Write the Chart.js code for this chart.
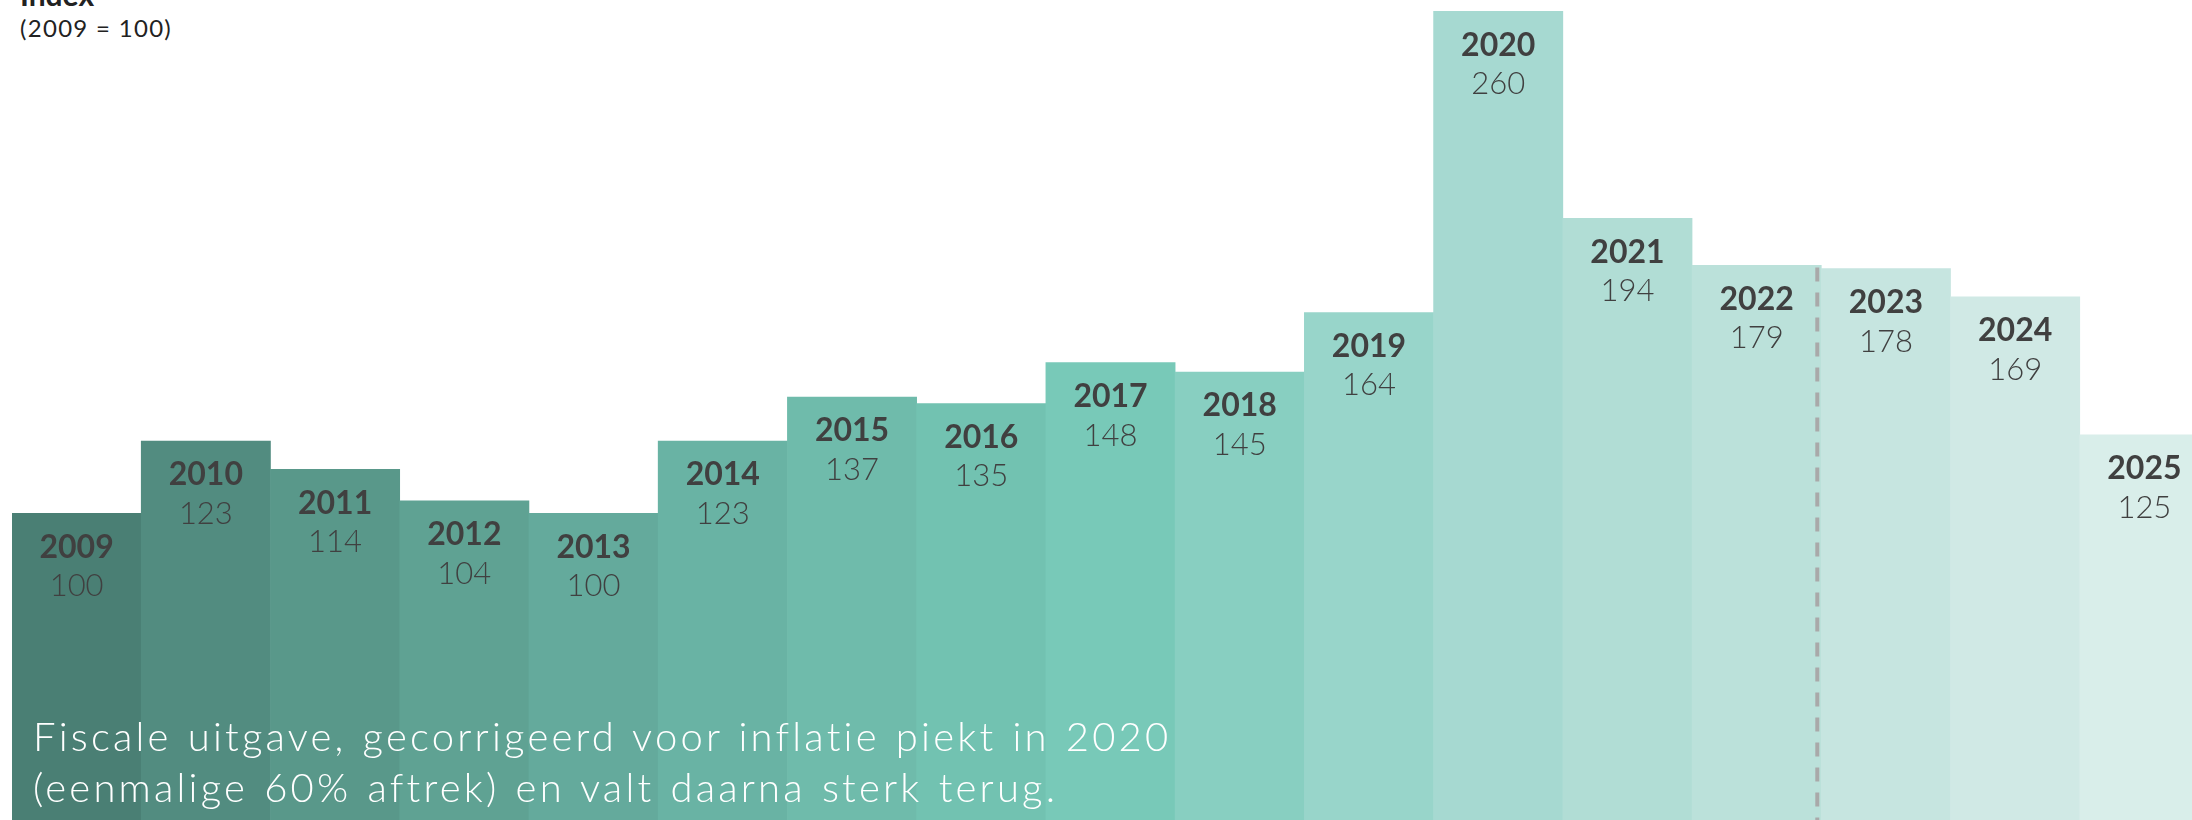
<!DOCTYPE html>
<html>
<head>
<meta charset="utf-8">
<script src="https://cdn.jsdelivr.net/npm/chart.js@4.4.1/dist/chart.umd.min.js"></script>
<style>
  html, body { margin: 0; padding: 0; background: #fff; }
  body { width: 2192px; height: 820px; overflow: hidden; position: relative; font-family: Lato, "Open Sans", sans-serif; }
  #chart { position: absolute; left: 12px; top: 0; }
  .head { position: absolute; left: 20px; color: #222; white-space: nowrap; }
  #idx { top: -21px; font-size: 30px; font-weight: 700; line-height: 30px; }
  #base { top: 13px; left: 20px; font-size: 24px; line-height: 30px; font-weight: 400; letter-spacing: 1.3px; }
  #note { position: absolute; left: 33px; top: 711px; color: #fff; font-size: 40px; font-weight: 300; line-height: 51px; letter-spacing: 3.2px; word-spacing: 2px; white-space: nowrap; }
</style>
</head>
<body>
<div class="head" id="idx">Index</div>
<div class="head" id="base">(2009 = 100)</div>
<canvas id="chart" width="2197" height="827"></canvas>
<div id="note">Fiscale uitgave, gecorrigeerd voor inflatie piekt in 2020<br>(eenmalige 60% aftrek) en valt daarna sterk terug.</div>
<script>
  "use strict";

  var years = ['2009', '2010', '2011', '2012', '2013', '2014', '2015', '2016', '2017',
               '2018', '2019', '2020', '2021', '2022', '2023', '2024', '2025'];
  var indexValues = [100, 123, 114, 104, 100, 123, 137, 135, 148, 145, 164, 260, 194, 179, 178, 169, 125];
  var barColors = ['#4a7f74', '#528c80', '#59988a', '#5fa293', '#64aa9c', '#69b3a4', '#6fbbab',
                   '#72c2b1', '#78c9b8', '#88cfc1', '#98d5ca', '#a6d9d1', '#b1ddd5', '#bbe1da',
                   '#c6e5e0', '#d0e9e5', '#d9eeea'];
  // last realised year before the dashed split
  var splitAfter = '2022';

  // Year (bold) and index value (light) inside the top of each bar.
  var barLabels = {
    id: 'barLabels',
    afterDatasetsDraw: function (chart) {
      var ctx = chart.ctx;
      var meta = chart.getDatasetMeta(0);
      ctx.save();
      ctx.textAlign = 'center';
      ctx.textBaseline = 'middle';
      ctx.fillStyle = '#404040';
      meta.data.forEach(function (bar, i) {
        ctx.font = '700 32px Lato, "Open Sans", sans-serif';
        ctx.fillText(years[i], bar.x, bar.y + 34);
        ctx.font = '300 31px Lato, "Open Sans", sans-serif';
        ctx.fillText(String(indexValues[i]), bar.x, bar.y + 73);
      });
      ctx.restore();
    }
  };

  // Dashed separator between realised years and projections.
  var splitLine = {
    id: 'splitLine',
    afterDatasetsDraw: function (chart) {
      var i = years.indexOf(splitAfter);
      var xs = chart.scales.x, ys = chart.scales.y;
      var x = (xs.getPixelForValue(i) + xs.getPixelForValue(i + 1)) / 2 - 4;
      var ctx = chart.ctx;
      ctx.save();
      ctx.strokeStyle = '#a9a9a9';
      ctx.lineWidth = 4;
      ctx.setLineDash([14, 11]);
      ctx.beginPath();
      ctx.moveTo(x, ys.getPixelForValue(indexValues[i]) + 2);
      ctx.lineTo(x, chart.chartArea.bottom);
      ctx.stroke();
      ctx.restore();
    }
  };

  new Chart(document.getElementById('chart').getContext('2d'), {
    type: 'bar',
    data: {
      labels: years,
      datasets: [{
        data: indexValues,
        backgroundColor: barColors,
        borderWidth: 0,
        barPercentage: 1,
        categoryPercentage: 1
      }]
    },
    options: {
      responsive: false,
      animation: false,
      devicePixelRatio: 1,
      layout: { padding: 0 },
      plugins: { legend: { display: false }, tooltip: { enabled: false } },
      scales: {
        x: { display: false },
        y: { display: false, min: 0, max: 263.6 }
      }
    },
    plugins: [barLabels, splitLine]
  });
</script>
</body>
</html>
